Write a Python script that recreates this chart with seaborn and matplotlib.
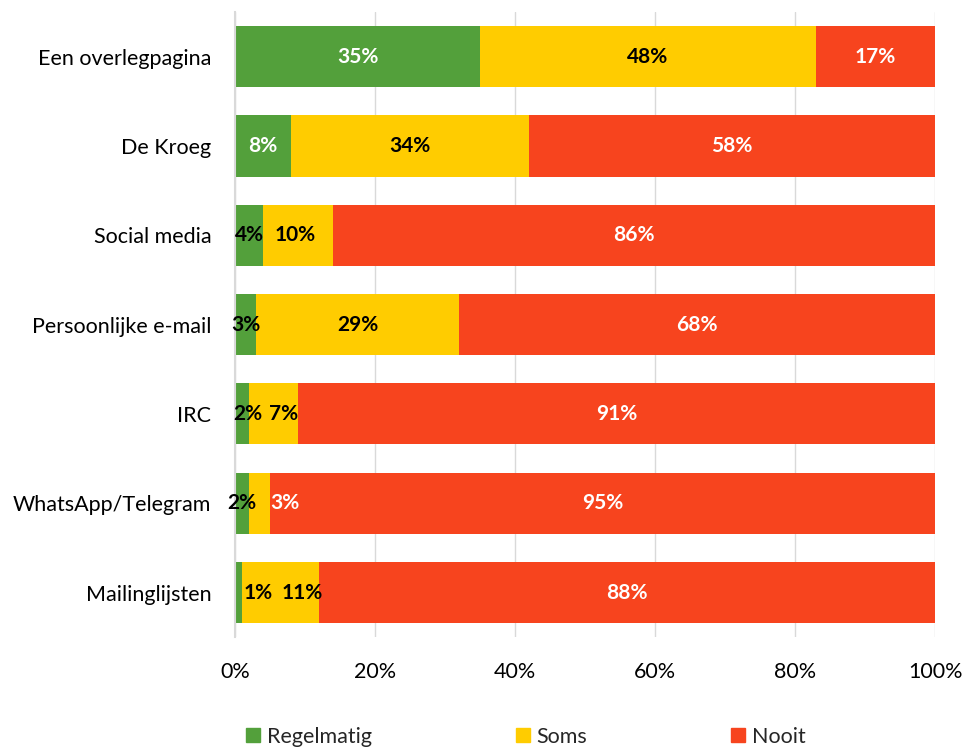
import numpy as np
import pandas as pd
import matplotlib.pyplot as plt
import seaborn as sns

categories = ['Een overlegpagina', 'De Kroeg', 'Social media', 'Persoonlijke e-mail',
              'IRC', 'WhatsApp/Telegram', 'Mailinglijsten']
regelmatig = [35, 8, 4, 3, 2, 2, 1]
soms = [48, 34, 10, 29, 7, 3, 11]
nooit = [17, 58, 86, 68, 91, 95, 88]
series = ['Regelmatig', 'Soms', 'Nooit']
colors = {'Regelmatig': '#53A03B', 'Soms': '#FFCC00', 'Nooit': '#F7441E'}

# label nudges (percentage points) where Excel moved labels away from small segments
nudge = {'Regelmatig': [0, 0, 0, 0, 0.9, 0, 2.8],
         'Soms': [0, 0, -0.4, 0, 1.4, 3.6, 3.1],
         'Nooit': [0] * 7}
label_color = {'Regelmatig': ['white', 'white', 'black', 'black', 'black', 'black', 'black'],
               'Soms': ['black', 'black', 'black', 'black', 'black', 'white', 'black'],
               'Nooit': ['white'] * 7}

sns.set_style('white')
plt.rcParams['font.family'] = ['Lato', 'DejaVu Sans']

df = pd.DataFrame({'cat': categories, 'Regelmatig': regelmatig, 'Soms': soms, 'Nooit': nooit})
df['c1'] = df['Regelmatig']
df['c2'] = df['Regelmatig'] + df['Soms']
df['c3'] = df['c2'] + df['Nooit']

fig = plt.figure(figsize=(9.65, 7.47), dpi=100)
ax = fig.add_axes([0.2435, 0.147, 0.7255, 0.837])
ax.set_axisbelow(True)
ax.xaxis.grid(True, color='#D9D9D9', linewidth=1)

for col, name in [('c3', 'Nooit'), ('c2', 'Soms'), ('c1', 'Regelmatig')]:
    sns.barplot(data=df, x=col, y='cat', color=colors[name], width=0.685,
                orient='h', ax=ax, label=name, saturation=1, linewidth=0)

left = {'Regelmatig': [0] * 7, 'Soms': regelmatig, 'Nooit': list(df['c2'])}
vals = {'Regelmatig': regelmatig, 'Soms': soms, 'Nooit': nooit}
for name in series:
    for i in range(len(categories)):
        xc = left[name][i] + vals[name][i] / 2 + nudge[name][i]
        ax.text(xc, i, f'{vals[name][i]}%', ha='center', va='center',
                fontsize=15, fontweight='bold', color=label_color[name][i])

ax.set_xlim(0, 100)
ax.set_xticks(np.arange(0, 101, 20))
ax.set_xticklabels([f'{t}%' for t in range(0, 101, 20)])
ax.set_xlabel('')
ax.set_ylabel('')
ax.tick_params(axis='both', labelsize=15.5, length=0, colors='black')
ax.tick_params(axis='x', pad=18)
ax.tick_params(axis='y', pad=17)
for s in ['top', 'right', 'bottom']:
    ax.spines[s].set_visible(False)
ax.spines['left'].set_color('#D9D9D9')
ax.spines['left'].set_linewidth(1.5)
if ax.get_legend():
    ax.get_legend().remove()

handles = [plt.Rectangle((0, 0), 1, 1, color=colors[n]) for n in series]
fig.legend(handles, series, loc='center', bbox_to_anchor=(0.545, 0.014), ncol=3,
           frameon=False, fontsize=15.5, handlelength=0.65, handleheight=0.65,
           handletextpad=0.3, columnspacing=6.7)

fig.savefig('out.png', dpi=100)
